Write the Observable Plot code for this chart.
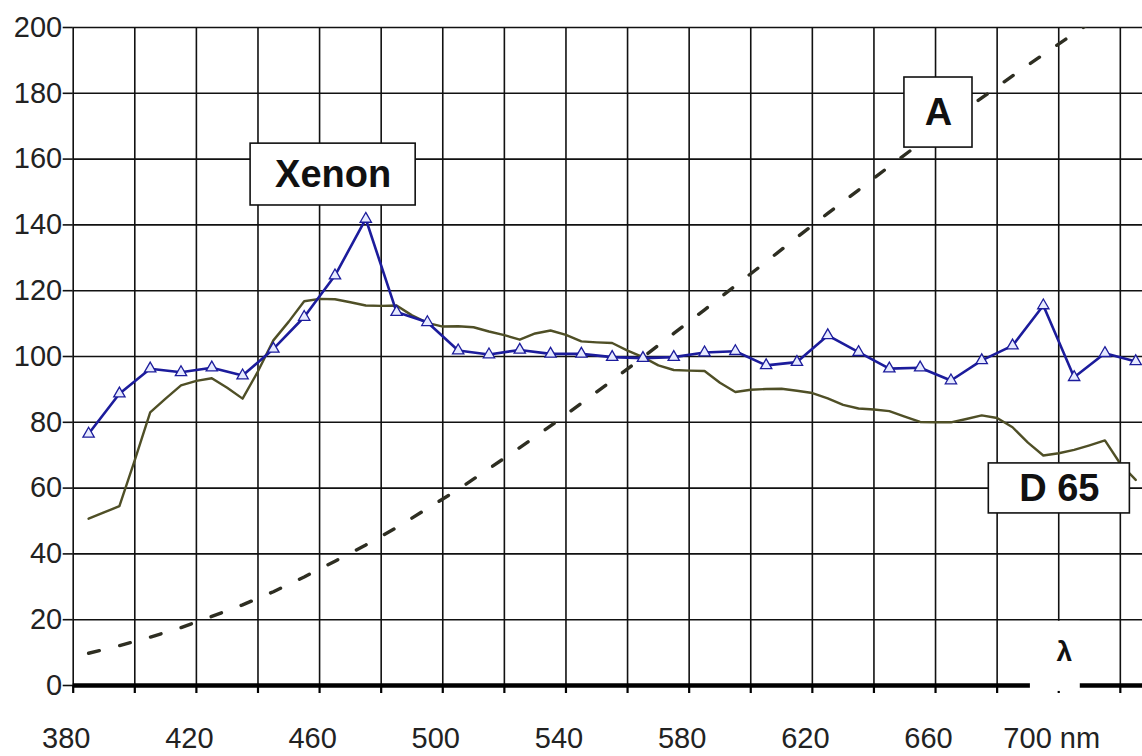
<!DOCTYPE html>
<html><head><meta charset="utf-8">
<script src="https://cdn.jsdelivr.net/npm/d3@7"></script>
<script src="https://cdn.jsdelivr.net/npm/@observablehq/plot@0.6"></script>
<style>html,body{margin:0;padding:0;background:#fff} svg{display:block}</style>
</head><body><div id="chart"></div>
<script>
// Wavelength positions (nm) and relative spectral power values
const xenonNm  = [385,395,405,415,425,435,445,455,465,475,485,495,505,515,525,535,545,555,565,575,585,595,605,615,625,635,645,655,665,675,685,695,705,715,725];
const xenonVal = [76.5,88.7,96.3,95.2,96.6,94.2,102.3,112,124.6,141.8,113.5,110.4,101.8,100.6,102,100.8,100.8,99.8,99.5,99.8,101.2,101.6,97.3,98.3,106.4,101.3,96.3,96.6,92.7,98.8,103.3,115.5,93.7,101,98.5];

const d65Nm  = [385,390,395,400,405,410,415,420,425,430,435,440,445,450,455,460,465,470,475,480,485,490,495,500,505,510,515,520,525,530,535,540,545,550,555,560,565,570,575,580,585,590,595,600,605,610,615,620,625,630,635,640,645,650,655,660,665,670,675,680,685,690,695,700,705,710,715,720,725];
const d65Val = [50.7,52.6,54.5,68.5,83.0,87.2,91.2,92.6,93.4,90.5,87.2,95.5,104.9,110.6,116.8,117.5,117.4,116.5,115.5,115.4,115.5,112.5,110.2,109.1,109.2,108.9,107.6,106.5,105.1,107.0,107.9,106.6,104.6,104.3,104.1,101.8,99.8,97.3,95.9,95.7,95.6,92.0,89.2,89.9,90.1,90.2,89.6,88.9,87.3,85.3,84.2,83.9,83.4,81.7,80.1,80.0,80.0,81.0,82.1,81.3,78.5,73.8,69.9,70.6,71.6,73.0,74.5,67.4,62.5];

const aNm  = [385,395,405,415,425,435,445,455,465,475,485,495,505,515,525,535,545,555,565,575,585,595,605,615,625,635,645,655,665,675,685,695,705,715];
const aVal = [9.8,12.1,14.7,17.6,21.0,24.5,28.5,33.0,37.8,42.7,48.0,53.8,59.6,65.9,72.3,78.9,85.8,92.7,99.8,107.0,114.2,121.5,128.8,136.2,143.5,150.6,157.8,164.8,171.8,178.6,185.3,191.8,198.2,204.3];

const xGridTicks  = [380,400,420,440,460,480,500,520,540,560,580,600,620,640,660,680,700,720];
const xLabelTicks = [380,420,460,500,540,580,620,660,700];
const xLabelText  = ["380","420","460","500","540","580","620","660","700 nm"];
const yTicks      = [0,20,40,60,80,100,120,140,160,180,200];
const seriesNames = ["Xenon","A","D 65"];
const axisSymbol  = "λ";

const xenon = xenonNm.map((x,i)=>({x, y: xenonVal[i]}));
const d65   = d65Nm.map((x,i)=>({x, y: d65Val[i]}));
const illA  = aNm.map((x,i)=>({x, y: aVal[i]}));

// label boxes (data units)
const boxes = [
  {text: seriesNames[0], x1: 437.6, x2: 491.2, y1: 145.9, y2: 164.7},
  {text: seriesNames[1], x1: 649.9, x2: 672.0, y1: 163.5, y2: 184.8},
  {text: seriesNames[2], x1: 677.3, x2: 723.1, y1: 52.3,  y2: 67.5}
].map(d => ({...d, cx: (d.x1+d.x2)/2, cy: (d.y1+d.y2)/2}));

const font = "'Liberation Sans', Arial, Helvetica, sans-serif";

const chart = Plot.plot({
  width: 1142, height: 756,
  marginLeft: 72.7, marginRight: 0, marginTop: 27, marginBottom: 71,
  x: {domain: [380, 727.2]},
  y: {domain: [0, 200]},
  style: {fontFamily: font, background: "#fff", overflow: "visible"},
  marks: [
    Plot.ruleX(xGridTicks, {stroke: "#111", strokeWidth: 1.6}),
    Plot.ruleY(yTicks, {stroke: "#111", strokeWidth: 1.6}),
    Plot.line(illA, {x: "x", y: "y", stroke: "#2e2e22", strokeWidth: 3.4, strokeDasharray: "11,21", clip: true}),
    Plot.line(d65, {x: "x", y: "y", stroke: "#4f4f26", strokeWidth: 2.4}),
    Plot.line(xenon, {x: "x", y: "y", stroke: "#1c1c9c", strokeWidth: 2.6}),
    Plot.dot(xenon, {x: "x", y: "y", symbol: "triangle", r: 4.2, stroke: "#1c1c9c", fill: "#e6eaff", strokeWidth: 1.3}),
    Plot.rect(boxes, {x1: "x1", x2: "x2", y1: "y1", y2: "y2", fill: "#fff", stroke: "#111", strokeWidth: 1.6}),
    Plot.text(boxes, {x: "cx", y: "cy", text: "text", fontSize: 38, fontWeight: "bold", fill: "#111"}),
    Plot.axisY({ticks: yTicks, tickSize: 10, tickPadding: 1, fontSize: 29, fill: "#222", stroke: "#111", strokeWidth: 1.6, label: null}),
    Plot.ruleY([0], {stroke: "#000", strokeWidth: 4.5}),
    Plot.axisX({ticks: xGridTicks, tickSize: 8, tickFormat: () => "", stroke: "#000", strokeWidth: 2.2, label: null}),
    Plot.axisX({ticks: xLabelTicks, tickSize: 0, tickPadding: 42, dx: -7, fontSize: 29, fill: "#222",
      tickFormat: d => xLabelText[xLabelTicks.indexOf(d)], label: null}),
    Plot.rect([{x1: 690.8, x2: 707, y1: -1.8, y2: 19.5}], {x1: "x1", x2: "x2", y1: "y1", y2: "y2", fill: "#fff"}),
    Plot.text([axisSymbol], {x: 701.8, y: 10.2, text: d => d, fontSize: 28, fontWeight: "bold", fill: "#111"})
  ]
});
document.getElementById("chart").appendChild(chart);
</script>
</body></html>
